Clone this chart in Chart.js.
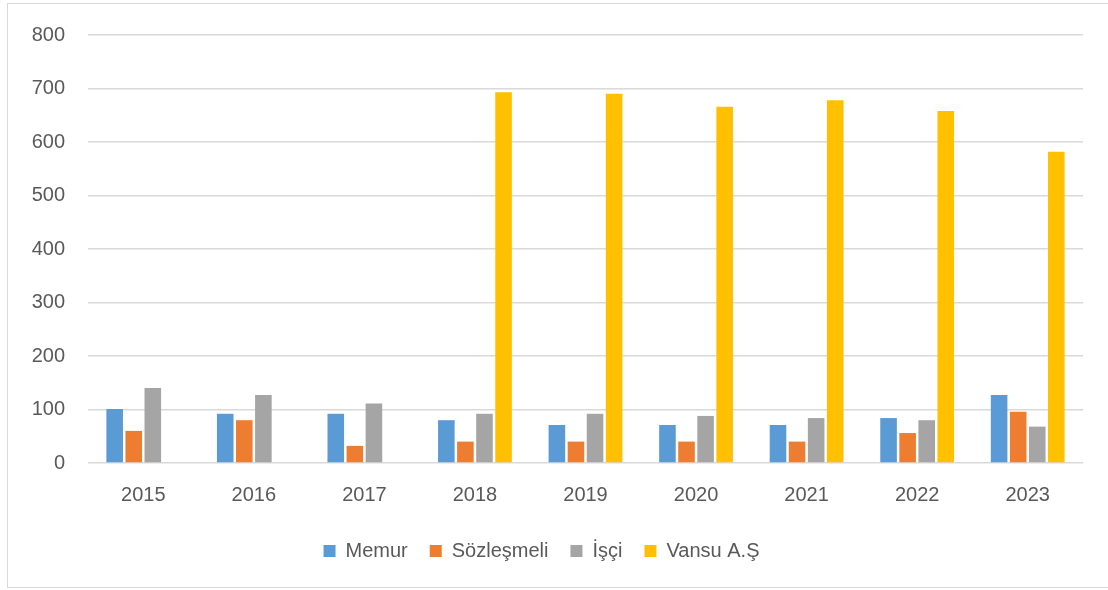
<!DOCTYPE html>
<html lang="tr">
<head>
    <meta charset="utf-8">
    <title>Personel Sayıları</title>
    <script src="https://cdn.jsdelivr.net/npm/chart.js"></script>
    <style>
        body { margin: 0; background: #fff; }
        #wrap { position: relative; width: 1108px; height: 590px; }
        #frame { position: absolute; left: 7px; top: 3px; width: 1110px; height: 583px;
                 border: 1px solid #d9d9d9; pointer-events: none; }
    </style>
</head>
<body>
<div id="wrap">
    <canvas id="staffChart" width="1108" height="590"></canvas>
    <div id="frame"></div>
</div>

<script>
    const years = ['2015', '2016', '2017', '2018', '2019', '2020', '2021', '2022', '2023'];
    const memur = [101, 92, 92, 80, 71, 71, 71, 84, 127];
    const sozlesmeli = [60, 80, 32, 40, 40, 40, 40, 56, 96];
    const isci = [140, 127, 111, 92, 92, 88, 84, 80, 68];
    const vansu = [null, null, null, 693, 690, 666, 678, 658, 582];

    const textColor = '#595959';
    const font = { family: 'Liberation Sans, Arial, sans-serif', size: 20 };

    const ctx = document.getElementById('staffChart').getContext('2d');
    new Chart(ctx, {
        type: 'bar',
        data: {
            labels: years,
            datasets: [
                { label: 'Memur', data: memur, backgroundColor: '#5b9bd5' },
                { label: 'Sözleşmeli', data: sozlesmeli, backgroundColor: '#ed7d31' },
                { label: 'İşçi', data: isci, backgroundColor: '#a5a5a5' },
                { label: 'Vansu A.Ş', data: vansu, backgroundColor: '#ffc000' }
            ]
        },
        options: {
            responsive: false,
            animation: false,
            layout: { padding: { top: 21, right: 25, bottom: 19, left: 0 } },
            datasets: {
                bar: { categoryPercentage: 0.69, barPercentage: 0.87 }
            },
            scales: {
                x: {
                    grid: { display: false },
                    border: { display: false },
                    ticks: { color: textColor, font: font, padding: 12 }
                },
                y: {
                    min: 0,
                    max: 800,
                    afterFit: scale => { scale.width = 88; },
                    grid: { color: '#d9d9d9', lineWidth: 1.5, drawTicks: false },
                    border: { display: false },
                    ticks: { stepSize: 100, color: textColor, font: font, padding: 23 }
                }
            },
            plugins: {
                legend: {
                    position: 'bottom',
                    labels: {
                        color: textColor,
                        font: font,
                        boxWidth: 12,
                        boxHeight: 12,
                        padding: 22
                    }
                },
                tooltip: { enabled: false }
            }
        }
    });
</script>
</body>
</html>
